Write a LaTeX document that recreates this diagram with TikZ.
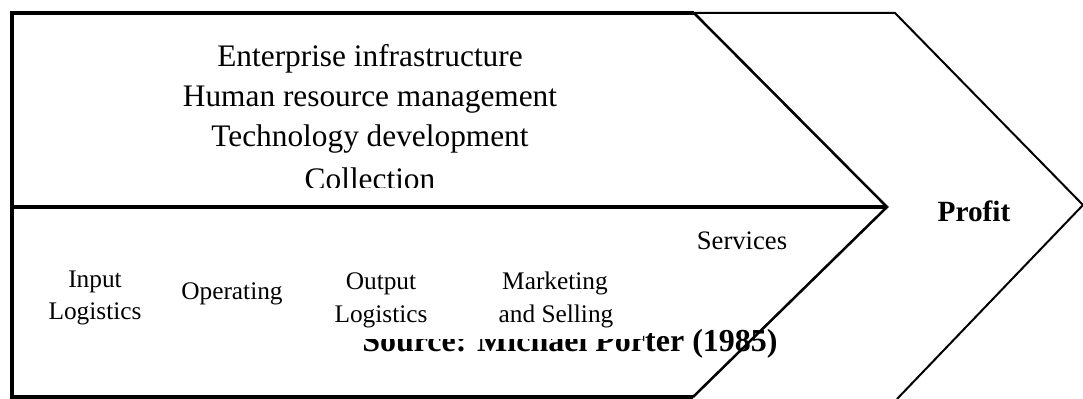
\documentclass[tikz,border=0pt]{standalone}
\usepackage{fontspec}
\setmainfont{Liberation Serif}
\begin{document}
\begin{tikzpicture}[x=0.75pt,y=-0.75pt,
  heavy/.style={line width=2.4pt,line join=miter},
  medium/.style={line width=1.9pt,line join=miter},
  light/.style={line width=1.5pt,line join=miter},
  suptext/.style={anchor=base,inner sep=0pt,font=\fontsize{23.5}{28}\selectfont},
  acttext/.style={anchor=base,inner sep=0pt,font=\fontsize{19}{23}\selectfont},
  srctext/.style={anchor=base west,inner sep=0pt,font=\fontsize{24}{28}\selectfont\bfseries},
  proftext/.style={anchor=base,inner sep=0pt,font=\fontsize{22}{26}\selectfont\bfseries}]
\useasboundingbox (0,0) rectangle (1083,399);
% key points
\coordinate (tl) at (12,13);
\coordinate (tr) at (694,13);
\coordinate (ml) at (12,207);
\coordinate (tip) at (887,207);
\coordinate (bl) at (12,397);
\coordinate (br) at (693,397);
\coordinate (otr) at (895,13);
\coordinate (otip) at (1083,205);
\coordinate (obr) at (897,399);
% support activities
\node[suptext] (ei) at (370,67) {Enterprise infrastructure};
\node[suptext] (hr) at (370,107) {Human resource management};
\node[suptext] (td) at (370,147) {Technology development};
\begin{scope}
\clip (0,0) rectangle (1083,188);
\node[suptext] (co) at (370,190) {Collection};
\end{scope}
% source text partially hidden
\node[srctext] (src) at (362,352) {Source: Michael Porter (1985)};
\fill[white] (330,255) rectangle (643,339);
% primary activities
\node[acttext] (in1) at (95,288) {Input};
\node[acttext] (in2) at (95,320) {Logistics};
\node[acttext] (op) at (232,300) {Operating};
\node[acttext] (ou1) at (381,290) {Output};
\node[acttext] (ou2) at (381,323) {Logistics};
\node[acttext] (mk1) at (555,290) {Marketing};
\node[acttext] (mk2) at (556,323) {and Selling};
\node[acttext,font=\fontsize{20}{24}\selectfont] (sv) at (742,250) {Services};
\node[proftext] (pf) at (974,222) {Profit};
% shapes
\draw[light] (tr) -- (otr) -- (otip) -- (obr);
\draw[medium] (tr) -- (tip) -- (br);
\draw[heavy] (br) -- (bl) -- (tl) -- (tr);
\draw[heavy] (ml) -- (tip);
\draw[light] (bl) -- (br);
\end{tikzpicture}
\end{document}
